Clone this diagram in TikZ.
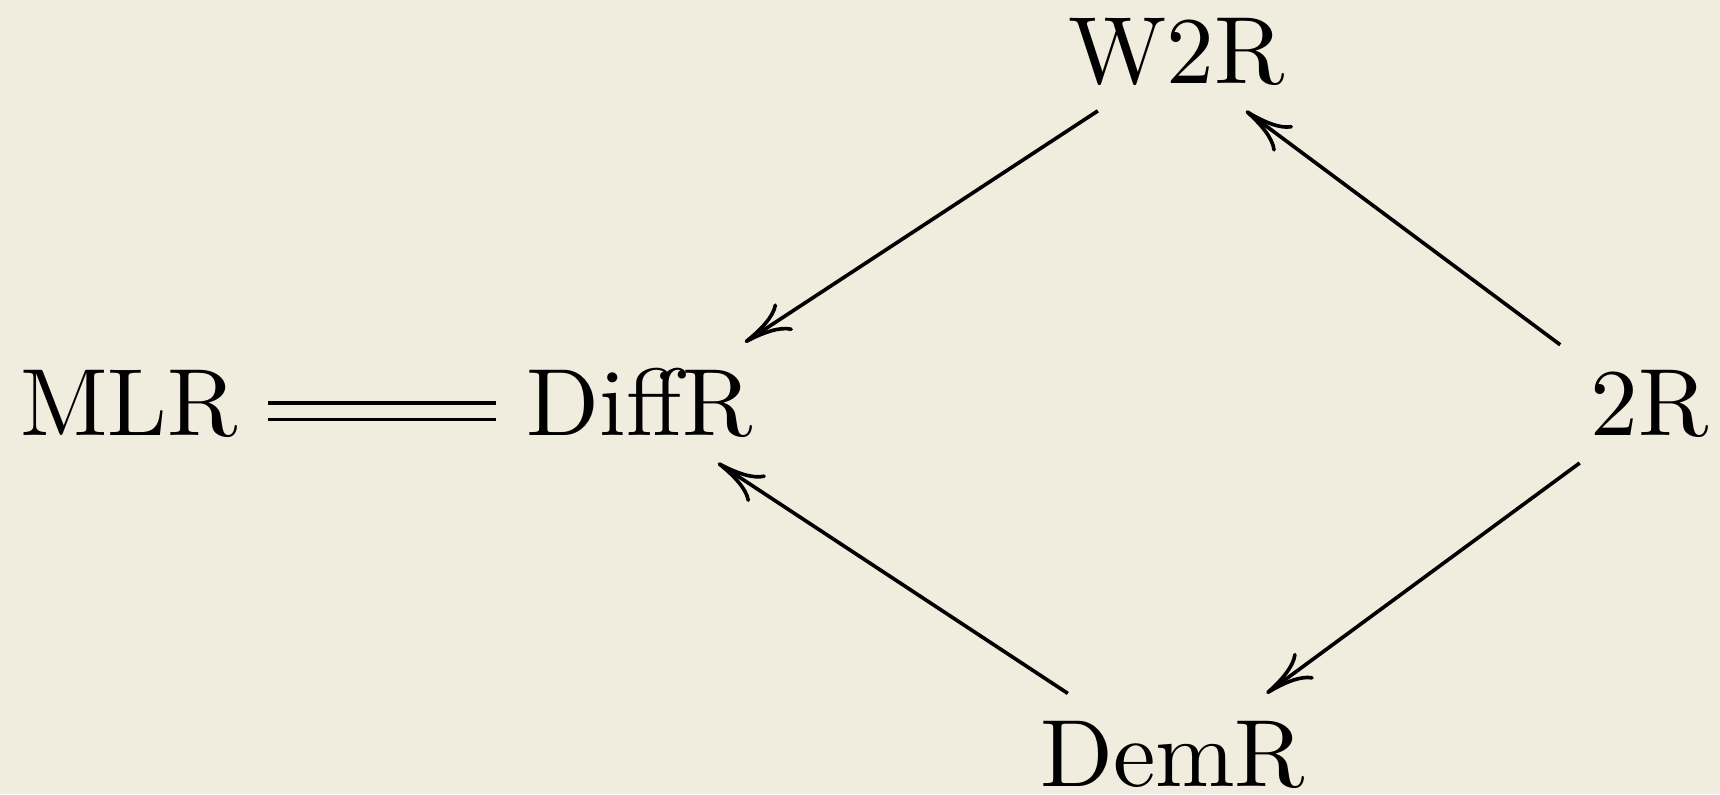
\documentclass[tikz,border=0pt]{standalone}
\usetikzlibrary{arrows.meta,cd}
\definecolor{paper}{RGB}{240,237,222}
\begin{document}
\begin{tikzpicture}[x=1pt,y=1pt,
  obj/.style={shape=asymmetrical rectangle, inner xsep=3pt, inner ysep=2.7pt,
              text height=6.83pt, text depth=0pt},
  mapto/.style={line width=0.38pt,
              -{Computer Modern Rightarrow[length=5pt,width=3.4pt]}},
  eqline/.style={line width=0.38pt, double=paper, double distance=1.35pt}]
  % page background
  \fill[paper] (0,0) rectangle (180.1,83.14);
  \useasboundingbox (0,0) rectangle (180.1,83.14);

  % objects, centred on the math axis of each row
  \node[obj] (mlr)   at (13.5,40.06)   {MLR};
  \node[obj] (diffr) at (66.97,40.06)  {DiffR};
  \node[obj] (w2r)   at (123.19,76.93) {W2R};
  \node[obj] (tr)    at (172.75,40.06) {2R};
  \node[obj] (demr)  at (122.79,3.30)  {DemR};

  % morphisms
  \draw[eqline] (mlr.east) -- (diffr.west);
  \draw[mapto] (w2r) -- (diffr);
  \draw[mapto] (tr) -- (w2r);
  \draw[mapto] (demr) -- (diffr);
  \draw[mapto] (tr) -- (demr);
\end{tikzpicture}
\end{document}
